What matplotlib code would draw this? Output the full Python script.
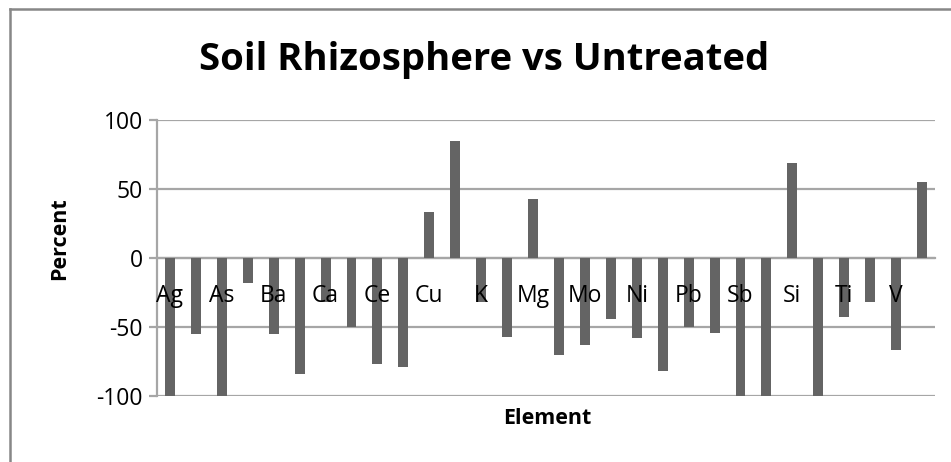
import matplotlib
matplotlib.use('Agg')
import matplotlib.pyplot as plt
from matplotlib.lines import Line2D

# percent change, rhizosphere soil vs untreated soil
elements = ['Ag', 'Al', 'As', 'B', 'Ba', 'Be', 'Ca', 'Cd', 'Ce', 'Cr',
            'Cu', 'Fe', 'K', 'Li', 'Mg', 'Mn', 'Mo', 'Na', 'Ni', 'P',
            'Pb', 'S', 'Sb', 'Se', 'Si', 'Sn', 'Ti', 'Tl', 'V', 'Zn']
percent = [-100, -55, -100, -18, -55, -84, -32, -50, -77, -79,
           33, 85, -32, -57, 43, -70, -63, -44, -58, -82,
           -50, -54, -100, -100, 69, -100, -43, -32, -67, 55]
yticks = [-100, -50, 0, 50, 100]

plt.rcParams['font.family'] = ['Open Sans', 'DejaVu Sans']

W, H = 951, 462
fig = plt.figure(figsize=(W / 100, H / 100), dpi=100)
ax = fig.add_axes([157 / W, (H - 396) / H, (935 - 157) / W, (396 - 120) / H])

grid_c = '#a6a6a6'
x = list(range(len(elements)))
ax.bar(x, percent, width=0.385, color='#646464', zorder=2)

ax.set_xlim(-0.5, len(elements) - 0.5)
ax.set_ylim(-100, 100)
ax.set_yticks(yticks)
ax.set_yticklabels([str(v) for v in yticks])
for v in yticks:
    ax.axhline(v, color=grid_c, lw=1.6, zorder=1)

# Excel skips every other category label
ax.set_xticks(x)
ax.set_xticklabels([e if i % 2 == 0 else '' for i, e in enumerate(elements)])
ax.set_axisbelow(False)

for side in ['top', 'right']:
    ax.spines[side].set_visible(False)
ax.spines['bottom'].set_position(('data', 0))
ax.spines['bottom'].set_color(grid_c)
ax.spines['bottom'].set_linewidth(1.6)
ax.spines['bottom'].set_zorder(1)
ax.spines['left'].set_color(grid_c)
ax.spines['left'].set_linewidth(1.6)
ax.tick_params(axis='y', length=6, width=1.6, color=grid_c, labelsize=16.5, pad=4)
ax.tick_params(axis='x', length=0, labelsize=16.5, pad=19)

fig.text(484 / W, 1 - 60 / H, 'Soil Rhizosphere vs Untreated', ha='center',
         va='center', fontsize=27.5, fontweight='bold')
fig.text(60 / W, 1 - 239 / H, 'Percent', rotation=90, ha='center',
         va='center', fontsize=15.5, fontweight='bold')
fig.text(547 / W, 1 - 418 / H, 'Element', ha='center', va='center',
         fontsize=15.5, fontweight='bold')

# chart area frame (top and left edges visible)
fig.add_artist(Line2D([9.5 / W, 1], [1 - 8.5 / H, 1 - 8.5 / H], color='#878787', lw=1.8))
fig.add_artist(Line2D([9.5 / W, 9.5 / W], [0, 1 - 8.5 / H], color='#878787', lw=1.8))

fig.savefig('out.png', dpi=100)
